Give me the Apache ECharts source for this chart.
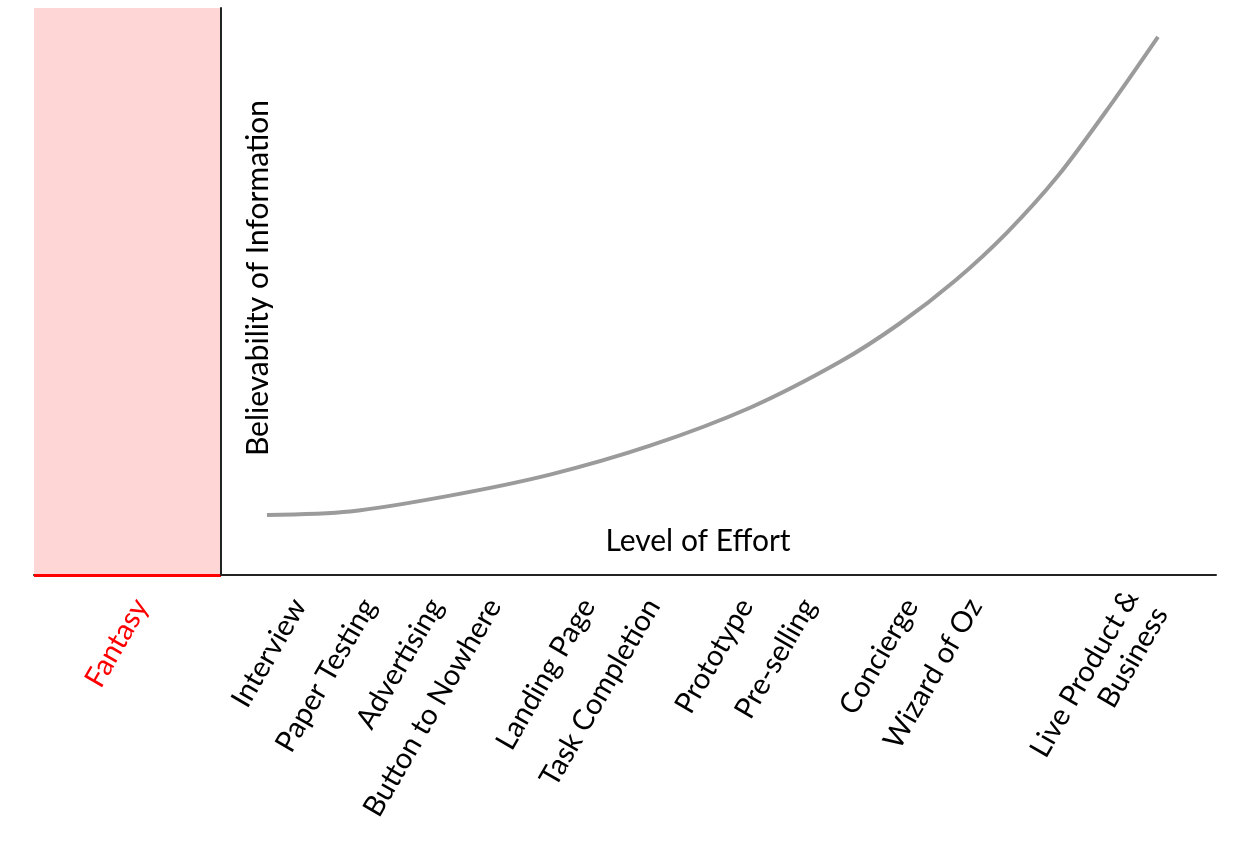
<!DOCTYPE html>
<html>
<head>
<meta charset="utf-8">
<script src="https://cdn.jsdelivr.net/npm/echarts@6/dist/echarts.min.js"></script>
<style>
html,body{margin:0;padding:0;background:#fff;}
#chart{width:1247px;height:841px;}
</style>
</head>
<body>
<div id="chart"></div>
<script>
// Effort (x) vs believability (y) curve
const curveX = [4.6, 12.9, 22.9, 32.9, 42.9, 52.9, 61.9, 67.9, 73.4, 78.6, 83.7, 89.2, 93.7];
const curveY = [10.6, 11.2, 14.0, 17.7, 22.8, 29.5, 37.6, 44.4, 51.9, 60.4, 70.4, 83.5, 94.9];

// Method labels along the effort axis
const tickLabels = ['Fantasy', 'Interview', 'Paper Testing', 'Advertising', 'Button to Nowhere',
  'Landing Page', 'Task Completion', 'Prototype', 'Pre-selling', 'Concierge', 'Wizard of Oz',
  'Live Product &\nBusiness'];
const tickPositions = [-8.0, 7.8, 14.8, 21.5, 27.3, 36.7, 43.2, 52.5, 58.8, 69.0, 75.4, 92.5];

// Fantasy zone on the effort axis
const fantasyRange = [-18.7, 0];
const xRange = [-18.7, 99.5];
const yRange = [0, 100];

const FONT = 'Lato';
const LABEL_SIZE = 29;
const TITLE_SIZE = 30;
const chart = echarts.init(document.getElementById('chart'));
const curveData = curveX.map((x, i) => [x, curveY[i]]);

chart.setOption({
  animation: false,
  backgroundColor: '#ffffff',
  textStyle: { fontFamily: FONT },
  grid: { left: 34, right: 31, top: 8, bottom: 266, containLabel: false },
  xAxis: {
    type: 'value',
    min: xRange[0],
    max: xRange[1],
    axisLine: { show: true, onZero: false, lineStyle: { color: '#222', width: 2 } },
    axisTick: { show: false },
    splitLine: { show: false },
    axisLabel: {
      customValues: tickPositions,
      rotate: 60,
      margin: 26,
      fontFamily: FONT,
      fontSize: LABEL_SIZE,
      color: '#000',
      lineHeight: 34,
      formatter: function (v) {
        let idx = -1;
        for (let i = 0; i < tickPositions.length; i++) {
          if (Math.abs(tickPositions[i] - v) < 1e-6) idx = i;
        }
        if (idx < 0) return '';
        if (idx === 0) return '{f|' + tickLabels[idx] + '}';
        return tickLabels[idx];
      },
      rich: { f: { color: '#ff0000', fontFamily: FONT, fontSize: LABEL_SIZE } }
    }
  },
  yAxis: {
    type: 'value',
    min: yRange[0],
    max: yRange[1],
    z: 10,
    axisLine: { show: true, onZero: true, lineStyle: { color: '#222', width: 2 } },
    axisTick: { show: false },
    axisLabel: { show: false },
    splitLine: { show: false }
  },
  graphic: [
    {
      type: 'text',
      x: 258, y: 278,
      rotation: Math.PI / 2,
      style: { text: 'Believability of Information', fontFamily: FONT, fontSize: TITLE_SIZE, fill: '#000', align: 'center', verticalAlign: 'middle' }
    },
    {
      type: 'text',
      x: 698, y: 541,
      style: { text: 'Level of Effort', fontFamily: FONT, fontSize: TITLE_SIZE, fill: '#000', align: 'center', verticalAlign: 'middle' }
    }
  ],
  series: [{
    type: 'line',
    data: curveData,
    smooth: 0.3,
    symbol: 'none',
    lineStyle: { color: '#9b9b9b', width: 4 },
    markArea: {
      silent: true,
      itemStyle: { color: '#ffd6d6', opacity: 1 },
      data: [[{ xAxis: fantasyRange[0] }, { xAxis: fantasyRange[1] }]]
    },
    markLine: {
      silent: true,
      symbol: 'none',
      label: { show: false },
      lineStyle: { color: '#ff0000', width: 3, type: 'solid' },
      data: [[{ coord: [fantasyRange[0], yRange[0]] }, { coord: [fantasyRange[1], yRange[0]] }]]
    }
  }]
});
</script>
</body>
</html>
